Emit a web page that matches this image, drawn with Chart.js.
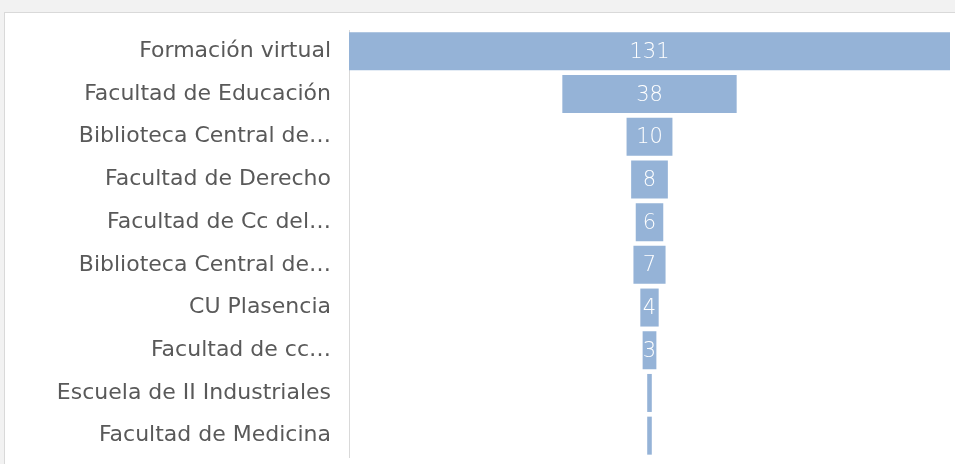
<!DOCTYPE html>
<html>
<head>
<meta charset="utf-8">
<script src="https://cdn.jsdelivr.net/npm/chart.js@4/dist/chart.umd.min.js"></script>
<style>
  html, body { margin: 0; padding: 0; background: #f2f2f2; width: 955px; height: 464px; overflow: hidden; }
  #card { position: absolute; left: 4px; top: 12px; width: 1000px; height: 500px; background: #ffffff; border: 1px solid #d9d9d9; box-sizing: border-box; }
  #wrap { position: absolute; left: 0; top: 0; width: 955px; height: 464px; }
  canvas { display: block; }
</style>
</head>
<body>
<div id="card"></div>
<div id="wrap"><canvas id="c" width="955" height="464"></canvas></div>
<script>
const categories = [
  "Formación virtual",
  "Facultad de Educación",
  "Biblioteca Central de…",
  "Facultad de Derecho",
  "Facultad de Cc del…",
  "Biblioteca Central de…",
  "CU Plasencia",
  "Facultad de cc…",
  "Escuela de II Industriales",
  "Facultad de Medicina"
];
const values = [131, 38, 10, 8, 6, 7, 4, 3, 1, 1];
const maxValue = 131;

const center = maxValue / 2;
const floating = values.map(v => [center - v / 2, center + v / 2]);

const FONT = "'DejaVu Sans', sans-serif";

const valueLabels = {
  id: 'valueLabels',
  afterDatasetsDraw(chart) {
    const ctx = chart.ctx;
    const meta = chart.getDatasetMeta(0);
    ctx.save();
    ctx.fillStyle = '#ffffff';
    ctx.font = "200 21px " + FONT;
    ctx.textAlign = 'center';
    ctx.textBaseline = 'middle';
    meta.data.forEach((bar, i) => {
      if (values[i] < 2) return;
      const x = (bar.x + bar.base) / 2;
      ctx.fillText(String(values[i]), x, bar.y + 1);
    });
    ctx.restore();
  }
};

new Chart(document.getElementById('c'), {
  type: 'bar',
  data: {
    labels: categories,
    datasets: [{
      data: floating,
      backgroundColor: '#95b3d7',
      borderWidth: 0,
      barPercentage: 0.89,
      categoryPercentage: 1.0
    }]
  },
  options: {
    indexAxis: 'y',
    responsive: false,
    animation: false,
    layout: { padding: { left: 0, top: 30, right: 5, bottom: 7 } },
    plugins: { legend: { display: false }, tooltip: { enabled: false } },
    scales: {
      x: { display: false, min: 0, max: maxValue },
      y: {
        afterFit(scale) { scale.width = 349; scale.paddingTop = 0; scale.paddingBottom = 0; },
        grid: { display: false, drawTicks: false },
        border: { display: true, color: '#d9d9d9', width: 1 },
        ticks: { color: '#595959', font: { family: FONT, size: 22 }, padding: 18, autoSkip: false }
      }
    }
  },
  plugins: [valueLabels]
});
</script>
</body>
</html>
